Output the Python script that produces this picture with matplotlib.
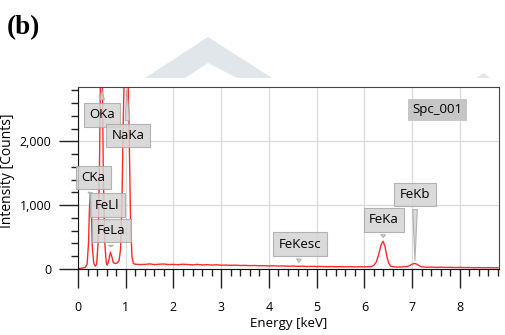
import numpy as np
import matplotlib.pyplot as plt
from matplotlib.patches import Polygon
from matplotlib.ticker import MultipleLocator, FuncFormatter

plt.rcParams['font.family'] = ['Open Sans', 'DejaVu Sans']

# spectrum (keV, counts)
energy = [0.00, 0.05, 0.10, 0.15, 0.19, 0.22, 0.24, 0.26, 0.28, 0.30, 0.33, 0.36,
          0.39, 0.42, 0.45, 0.47, 0.49, 0.51, 0.53, 0.56, 0.59, 0.61, 0.64, 0.68,
          0.71, 0.74, 0.78, 0.82, 0.86, 0.89, 0.92, 0.95, 0.98, 1.01, 1.04, 1.07,
          1.10, 1.13, 1.16,
          1.2, 1.3, 1.4, 1.5, 1.6, 1.7, 1.8, 1.9, 2.0, 2.1, 2.2, 2.3, 2.4, 2.5,
          2.6, 2.7, 2.8, 2.9, 3.0, 3.1, 3.2, 3.3, 3.4, 3.5, 3.6, 3.7, 3.8, 3.9,
          4.0, 4.1, 4.2, 4.3, 4.4, 4.5, 4.6, 4.7, 4.8, 4.9, 5.0, 5.1, 5.2, 5.3,
          5.4, 5.5, 5.6, 5.7, 5.8, 5.9, 6.0, 6.1, 6.15, 6.2, 6.25, 6.3, 6.35,
          6.39, 6.43, 6.47, 6.51, 6.55, 6.6, 6.7, 6.8, 6.9, 6.95, 7.0, 7.05,
          7.1, 7.15, 7.2, 7.3, 7.4, 7.5, 7.6, 7.7, 7.8, 7.9, 8.0, 8.1, 8.2, 8.3,
          8.4, 8.5, 8.6, 8.7, 8.8]
counts = [5, 10, 15, 25, 70, 400, 950, 1170, 900, 350, 90, 45,
          70, 400, 1600, 3000, 3700, 3000, 1500, 420, 110, 60, 120, 265,
          190, 100, 88, 92, 130, 300, 1000, 2400, 3400, 3600, 3300, 2200,
          800, 200, 85,
          75, 70, 72, 80, 70, 75, 78, 70, 72, 68, 75, 70, 66, 72,
          64, 68, 62, 66, 60, 62, 58, 60, 55, 57, 52, 55, 50, 52,
          48, 50, 46, 48, 44, 46, 42, 44, 40, 42, 38, 40, 36, 38,
          35, 37, 34, 36, 33, 35, 34, 36, 40, 60, 110, 230, 380,
          435, 360, 200, 90, 45, 35, 30, 32, 40, 55, 75, 88,
          75, 50, 35, 28, 30, 26, 28, 25, 26, 23, 25, 22, 24, 20,
          22, 20, 21, 19, 20]

# peak labels: text, pointer target (keV, counts), box centre (keV, counts)
labels = ['OKa', 'NaKa', 'CKa', 'FeLl', 'FeLa', 'FeKesc', 'FeKa', 'FeKb']
tip_x = [0.50, 1.02, 0.25, 0.62, 0.69, 4.62, 6.39, 7.06]
tip_y = [2850, 2850, 1165, 700, 303, 60, 450, 88]
box_x = [0.51, 1.045, 0.32, 0.615, 0.695, 4.65, 6.41, 7.06]
box_y = [2415, 2090, 1430, 1000, 605, 390, 770, 1165]

W, H = 506, 335
fig = plt.figure(figsize=(W / 100, H / 100), dpi=100)

# faint watermark above the chart
wm = [(145, 78), (208, 37), (272, 78), (237, 78), (208, 63), (185, 78)]
fig.patches.append(Polygon([(x / W, 1 - y / H) for x, y in wm], closed=True,
                           transform=fig.transFigure, fc='#e0e6e9', ec='none'))
fig.patches.append(Polygon([(476 / W, 1 - 78 / H), (484 / W, 1 - 73 / H), (490 / W, 1 - 78 / H)],
                           closed=True, transform=fig.transFigure, fc='#e0e6e9', ec='none'))

ax = fig.add_axes([78 / W, 1 - 269 / H, (499 - 78) / W, (269 - 87) / H])
ax.plot(energy, counts, color='#ff2a2a', lw=1.0, zorder=2)
ax.set_xlim(0, 8.82)
ax.set_ylim(0, 2850)

ax.xaxis.set_major_locator(MultipleLocator(1))
ax.xaxis.set_minor_locator(MultipleLocator(0.2))
ax.yaxis.set_major_locator(MultipleLocator(1000))
ax.yaxis.set_minor_locator(MultipleLocator(200))
ax.yaxis.set_major_formatter(FuncFormatter(lambda v, p: f'{int(v):,}'))

ax.grid(True, which='major', color='#dcdcdc', lw=1)
ax.set_axisbelow(True)

ax.tick_params(axis='both', which='major', length=14, width=1, labelsize=9, color='#222222')
ax.tick_params(axis='both', which='minor', length=5, width=1, color='#222222')
ax.tick_params(axis='x', which='major', pad=9)
ax.tick_params(axis='y', which='major', pad=5)
for s in ['left', 'bottom']:
    ax.spines[s].set_color('#111111')
for s in ['top', 'right']:
    ax.spines[s].set_color('#444444')

ax.set_xlabel('Energy [keV]', fontsize=9.5, labelpad=2)
fig.text(8 / W, 1 - 171 / H, 'Intensity [Counts]', rotation=90, ha='center', va='center', fontsize=10)

for t, tx, ty, bx, by in zip(labels, tip_x, tip_y, box_x, box_y):
    ax.annotate(t, xy=(tx, ty), xytext=(bx, by), ha='center', va='center', fontsize=9.5,
                annotation_clip=False, zorder=5,
                bbox=dict(boxstyle='square,pad=0.4', fc='#d4d4d4', ec='#a8a8a8', lw=0.8, alpha=0.85),
                arrowprops=dict(arrowstyle='wedge,tail_width=0.35', fc='#d4d4d4', ec='#a8a8a8',
                                lw=0.8, alpha=0.85))

ax.text(7.53, 2495, 'Spc_001', ha='center', va='center', fontsize=9.5, zorder=5,
        bbox=dict(boxstyle='square,pad=0.35', fc='#c6c6c6', ec='none'))

fig.text(6.7 / W, 1 - 27.5 / H, '(b)', ha='left', va='center', fontsize=19.5,
         fontweight='bold', family='Liberation Serif')

fig.savefig('out.png', dpi=100)
